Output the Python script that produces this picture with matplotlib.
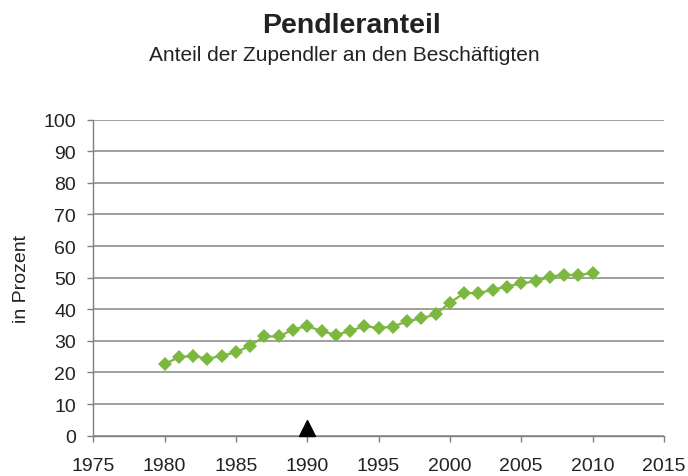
import numpy as np
import matplotlib.pyplot as plt

plt.rcParams['font.family'] = ['Liberation Sans', 'DejaVu Sans']

years = list(range(1980, 2011))
anteil = [22.7, 24.8, 25.3, 24.3, 25.3, 26.4, 28.5, 31.4, 31.4, 33.6,
          34.7, 33.1, 31.9, 33.1, 34.7, 34.1, 34.5, 36.2, 37.1, 38.4,
          42.1, 45.1, 45.1, 46.2, 47.2, 48.2, 48.8, 50.3, 50.9, 50.8, 51.5]
marker_jahr = 1990

fig = plt.figure(figsize=(6.88, 4.77), dpi=100)
ax = fig.add_axes([0.1355, 0.0845, 0.8295, 0.6625])

ax.set_xlim(1975, 2015)
ax.set_ylim(0, 100)
ax.set_xticks(np.arange(1975, 2016, 5))
ax.set_yticks(np.arange(0, 101, 10))
ax.yaxis.grid(True, color='#999999', linewidth=1.3)
ax.set_axisbelow(True)

for s in ['top', 'right']:
    ax.spines[s].set_visible(False)
for s in ['left', 'bottom']:
    ax.spines[s].set_color('#808080')
    ax.spines[s].set_linewidth(1.0)
ax.tick_params(axis='both', colors='#808080', length=4.5, width=1.0,
               labelcolor='#222222', labelsize=14)
ax.tick_params(axis='x', pad=10.5)
ax.tick_params(axis='y', pad=7.9)

ax.plot(years, anteil, color='#7cb740', linewidth=1.6, marker='D',
        markersize=7, markeredgewidth=0, zorder=3)

ax.plot([marker_jahr], [2.5], marker='^', color='black', markersize=12,
        clip_on=False, zorder=4)

ax.set_ylabel('in Prozent', fontsize=14, color='#222222', labelpad=9.4)

fig.text(0.511, 0.946, 'Pendleranteil', ha='center', va='center',
         fontsize=20.5, fontweight='bold', color='#222222')
fig.text(0.5, 0.884, 'Anteil der Zupendler an den Beschäftigten',
         ha='center', va='center', fontsize=15, color='#222222')

fig.savefig('out.png', dpi=100)
